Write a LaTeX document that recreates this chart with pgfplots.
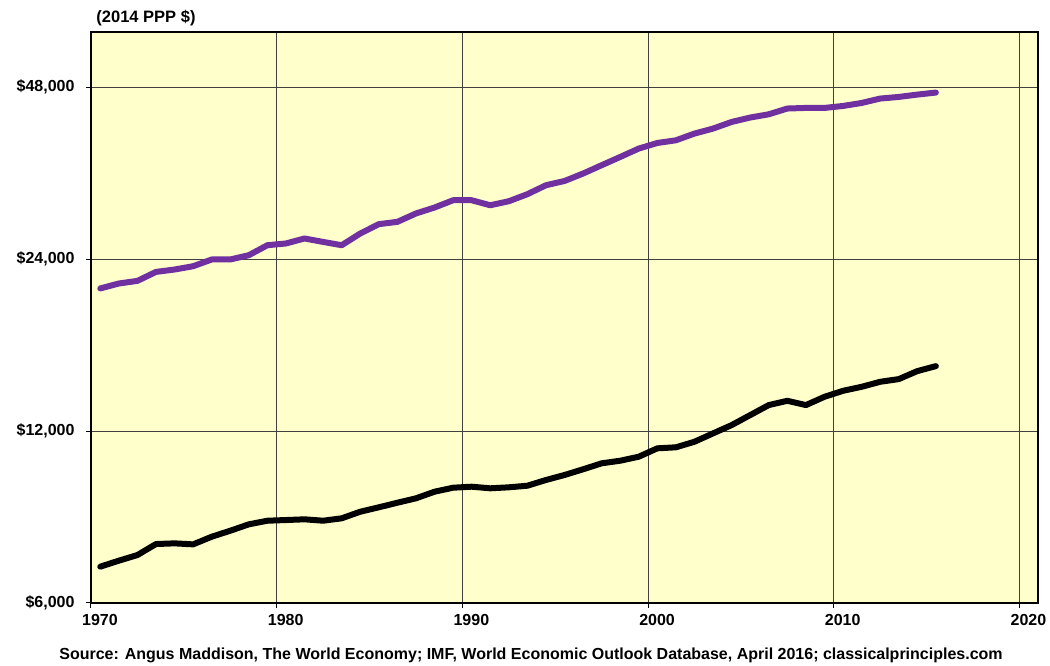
\documentclass[border=0pt]{standalone}
\usepackage{pgfplots}
\pgfplotsset{compat=1.18}
\usepackage{fontspec}
\setmainfont{Liberation Sans}
\definecolor{bgyel}{HTML}{FFFFCC}
\definecolor{purp}{HTML}{7030A0}
\begin{document}
\begin{tikzpicture}
\useasboundingbox (0,0) rectangle (1050pt,666pt);
\begin{axis}[
  at={(91pt,63pt)}, anchor=south west,
  scale only axis, width=947pt, height=571pt,
  xmin=1970, xmax=2021,
  ymode=log, log basis y=2,
  ymin=6000, ymax=60000,
  axis background/.style={fill=bgyel},
  axis line style={black, line width=1.3pt},
  xtick={1970,1980,1990,2000,2010,2020},
  xticklabels={1970,1980,1990,2000,2010,2020},
  ytick={6000,12000,24000,48000},
  yticklabels={{\$6,000},{\$12,000},{\$24,000},{\$48,000}},
  minor xtick={}, minor ytick={},
  grid=major,
  major grid style={black!75, line width=0.9pt},
  tick align=outside,
  major tick length=5pt,
  tick style={black, line width=1pt},
  xtick pos=bottom, ytick pos=left,
  ticklabel style={font=\bfseries\fontsize{16}{18}\selectfont},
  xticklabel style={yshift=-3pt, xshift=9pt},
  yticklabel style={xshift=-8pt},
  clip=true,
]
\addplot[purp, line width=6pt, line join=round, line cap=round] coordinates {
(1970.5,21330)(1971.5,21760)(1972.5,21990)(1973.5,22800)(1974.5,23020)
(1975.5,23330)(1976.5,23970)(1977.5,23970)(1978.5,24390)(1979.5,25390)
(1980.5,25570)(1981.5,26090)(1982.5,25730)(1983.5,25390)(1984.5,26620)
(1985.5,27640)(1986.5,27900)(1987.5,28860)(1988.5,29560)(1989.5,30440)
(1990.5,30440)(1991.5,29830)(1992.5,30320)(1993.5,31190)(1994.5,32340)
(1995.5,32900)(1996.5,33900)(1997.5,35060)(1998.5,36250)(1999.5,37500)
(2000.5,38350)(2001.5,38770)(2002.5,39830)(2003.5,40640)(2004.5,41740)
(2005.5,42490)(2006.5,43050)(2007.5,44060)(2008.5,44170)(2009.5,44170)
(2010.5,44520)(2011.5,45060)(2012.5,45870)(2013.5,46170)(2014.5,46610)
(2015.5,46990)
};
\addplot[black, line width=6pt, line join=round, line cap=round] coordinates {
(1970.5,6946)(1971.5,7116)(1972.5,7280)(1973.5,7610)(1974.5,7631)
(1975.5,7601)(1976.5,7837)(1977.5,8029)(1978.5,8239)(1979.5,8360)
(1980.5,8383)(1981.5,8407)(1982.5,8360)(1983.5,8441)(1984.5,8669)
(1985.5,8824)(1986.5,8989)(1987.5,9150)(1988.5,9397)(1989.5,9550)
(1990.5,9589)(1991.5,9527)(1992.5,9565)(1993.5,9627)(1994.5,9851)
(1995.5,10052)(1996.5,10286)(1997.5,10537)(1998.5,10648)(1999.5,10822)
(2000.5,11194)(2001.5,11239)(2002.5,11495)(2003.5,11889)(2004.5,12293)
(2005.5,12799)(2006.5,13326)(2007.5,13559)(2008.5,13326)(2009.5,13779)
(2010.5,14116)(2011.5,14346)(2012.5,14638)(2013.5,14798)(2014.5,15283)
(2015.5,15594)
};
\end{axis}
\node[font=\bfseries\fontsize{16.5}{18}\selectfont, anchor=center] at (146pt,648pt) {(2014 PPP \$)};
\node[font=\bfseries\fontsize{16}{18}\selectfont, anchor=center] at (531pt,11pt) {Source: Angus Maddison, The World Economy; IMF, World Economic Outlook Database, April 2016; classicalprinciples.com};
\end{tikzpicture}
\end{document}
